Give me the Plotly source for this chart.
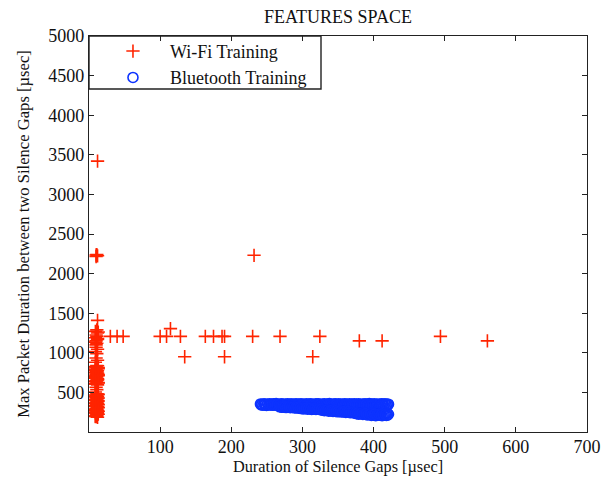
import plotly.graph_objects as go

# ---------------- data ----------------
wifi_x = [12,
          10, 11, 12, 10,
          12,
          11, 9, 12, 13,
          10, 11,
          9, 12, 10, 11, 12, 9, 10,
          10, 12, 9, 11,
          10, 12, 9,
          11, 9, 12, 10, 11, 9, 12, 10, 11, 9, 12, 10, 11, 9, 12,
          10, 13, 9, 12, 10, 11, 13, 9, 10, 12, 11, 9, 13, 10,
          12, 10, 13, 9, 11, 12, 10, 13, 9, 11, 12, 10, 13, 9,
          10, 11, 9,
          11, 9, 12, 10, 11, 9, 12, 10, 11, 9, 12, 10, 11, 9, 12, 10, 11, 9, 12,
          13, 10, 11, 12, 9, 13, 10, 12, 11, 9, 13, 10, 12, 11, 9, 13, 10, 11,
          12, 11, 9, 13, 10, 12, 11, 9, 13, 10, 12, 11, 9, 13, 10, 12, 11, 9,
          30, 39.5, 48, 100, 109, 114.5, 128.5, 163.5, 175, 187, 190.5,
          230, 268.5, 324.5, 380, 412, 494, 560,
          232, 134.5, 190.5, 314.5]
wifi_y = [3420,
          2215, 2240, 2225, 2235,
          1410,
          1290, 1270, 1250, 1262,
          1225, 1207,
          1190, 1170, 1150, 1120, 1180, 1135, 1100,
          1070, 1045, 1015, 990,
          935, 905, 880,
          840, 822, 805, 785, 768, 750, 732, 715, 698, 680, 662, 645, 628, 610, 595,
          831, 814, 796, 777, 759, 741, 724, 706, 689, 671, 653, 636, 619, 602,
          836, 818, 800, 781, 763, 745, 728, 710, 693, 675, 657, 640, 623, 606,
          565, 535, 505,
          483, 467, 450, 433, 417, 400, 383, 367, 350, 333, 317, 300, 283, 267, 250, 233, 217, 200, 186,
          475, 458, 441, 425, 408, 391, 375, 358, 342, 325, 308, 292, 275, 258, 242, 225, 208, 193,
          479, 462, 446, 429, 412, 396, 379, 362, 346, 329, 312, 296, 279, 262, 246, 229, 212, 196,
          1207, 1207, 1207, 1207, 1207, 1305, 1207, 1207, 1207, 1207, 1207,
          1207, 1207, 1207, 1150, 1150, 1207, 1150,
          2231, 950, 950, 950]

bt_x = [241, 243, 246, 248, 251, 254, 256, 259, 261, 263,
        266, 269, 271, 273, 276, 279, 281, 284, 286, 288,
        291, 294, 296, 298, 301, 304, 306, 309, 311, 313,
        316, 319, 321, 323, 326, 329, 331, 334, 336, 338,
        341, 344, 346, 348, 351, 354, 356, 359, 361, 363,
        366, 369, 371, 373, 376, 379, 381, 384, 386, 388,
        391, 394, 396, 398, 401, 404, 406, 409, 411, 413,
        416, 419, 421,
        242, 244.5, 247, 249.5, 252.5, 255, 257.5, 260, 262, 264.5,
        267.5, 270, 272, 274.5, 277.5, 280, 282.5, 285, 287, 289.5,
        292.5, 295, 297, 299.5, 302.5, 305, 307.5, 310, 312, 314.5,
        317.5, 320, 322, 324.5, 327.5, 330, 332.5, 335, 337, 339.5,
        342.5, 345, 347, 349.5, 352.5, 355, 357.5, 360, 362, 364.5,
        367.5, 370, 372, 374.5, 377.5, 380, 382.5, 385, 387, 389.5,
        392.5, 395, 397, 399.5, 402.5, 405, 407.5, 410, 412, 414.5,
        417.5, 420,
        268, 271, 274, 277, 280, 283, 286, 289, 292, 295,
        298, 301, 304, 307, 310, 313, 316, 319, 322, 325,
        328, 331, 334, 337, 340, 343, 346, 349, 352, 355,
        358, 361, 364, 367, 370, 373, 376, 379, 382, 385,
        388, 391, 394, 397, 400, 403, 406, 409, 412, 415,
        418, 421, 419, 410, 398, 386,
        269.5, 272.5, 275.5, 278.5, 281.5, 284.5, 287.5, 290.5, 293.5, 296.5,
        299.5, 302.5, 305.5, 308.5, 311.5, 314.5, 317.5, 320.5, 323.5, 326.5,
        329.5, 332.5, 335.5, 338.5, 341.5, 344.5, 347.5, 350.5, 353.5, 356.5,
        359.5, 362.5, 365.5, 368.5, 371.5, 374.5, 377.5, 380.5, 383.5, 386.5,
        389.5, 392.5, 395.5, 398.5, 401.5, 404.5, 407.5, 410.5, 413.5, 416.5,
        419.5]
bt_y = [354, 351, 356, 349, 353, 357, 350, 355, 352, 358,
        349, 354, 356, 351, 353, 357, 350, 355, 348, 354,
        356, 352, 350, 357, 353, 349, 355, 351, 356, 354,
        350, 357, 352, 355, 349, 353, 356, 351, 354, 358,
        350, 352, 355, 349, 356, 353, 351, 357, 354, 350,
        355, 352, 349, 356, 353, 357, 351, 354, 350, 355,
        352, 358, 349, 353, 356, 351, 354, 350, 357, 352,
        355, 353, 351,
        341, 338, 343, 336, 340, 344, 337, 342, 339, 345,
        336, 341, 343, 338, 340, 344, 337, 342, 335, 341,
        343, 339, 337, 344, 340, 336, 342, 338, 343, 341,
        337, 344, 339, 342, 336, 340, 343, 338, 341, 345,
        337, 339, 342, 336, 343, 340, 338, 344, 341, 337,
        342, 339, 336, 343, 340, 344, 338, 341, 337, 342,
        339, 345, 336, 340, 343, 338, 341, 337, 344, 339,
        342, 340,
        318, 312, 316, 309, 313, 306, 310, 303, 307, 300,
        296, 291, 297, 288, 294, 286, 292, 284, 290, 281,
        276, 268, 274, 262, 270, 259, 266, 255, 263, 252,
        260, 248, 256, 243, 251, 238, 232, 226, 236, 222,
        230, 215, 226, 210, 222, 207, 219, 212, 205, 216,
        209, 224, 240, 230, 238, 244,
        322, 318, 320, 314, 317, 312, 315, 308, 311, 305,
        300, 297, 301, 294, 298, 290, 296, 288, 293, 286,
        280, 274, 279, 268, 275, 264, 271, 260, 268, 257,
        262, 253, 258, 248, 255, 243, 238, 232, 240, 228,
        234, 221, 230, 216, 226, 213, 224, 217, 211, 220,
        214]

x_ticks = [100, 200, 300, 400, 500, 600, 700]
y_ticks = [500, 1000, 1500, 2000, 2500, 3000, 3500, 4000, 4500, 5000]

FONT = "Liberation Serif"
RED = "#ff2400"
BLUE = "#0d33ff"
AX = "#222222"
TXT = "#111111"

fig = go.Figure()
fig.add_trace(go.Scatter(
    x=wifi_x, y=wifi_y, mode="markers", name="Wi-Fi Training",
    cliponaxis=False,
    marker=dict(symbol="cross-thin", size=9.5, color=RED,
                line=dict(color=RED, width=1.6)),
))
fig.add_trace(go.Scatter(
    x=bt_x, y=bt_y, mode="markers", name="Bluetooth Training",
    cliponaxis=False,
    marker=dict(symbol="circle-open", size=10, color=BLUE,
                line=dict(color=BLUE, width=1.6)),
))

axis_common = dict(
    showline=True, linecolor=AX, linewidth=1.4, mirror="ticks",
    ticks="inside", ticklen=5, tickwidth=1.2, tickcolor=AX,
    showgrid=False, zeroline=False, automargin=False,
    tickfont=dict(family=FONT, size=18, color=TXT),
)

fig.update_xaxes(range=[0, 700], tickvals=x_ticks, ticklabelstandoff=-2, **axis_common,
                 title=dict(text="Duration of Silence Gaps [µsec]",
                            font=dict(family=FONT, size=16.3, color=TXT),
                            standoff=0))
fig.update_yaxes(range=[0, 5000], tickvals=y_ticks, **axis_common,
                 title=dict(text="Max Packet Duration between two Silence Gaps [µsec]",
                            font=dict(family=FONT, size=16.6, color=TXT),
                            standoff=14))

fig.update_layout(
    width=608, height=479, autosize=False,
    margin=dict(l=89, r=21, t=36, b=47, autoexpand=False),
    paper_bgcolor="white", plot_bgcolor="white",
    title=dict(text="FEATURES SPACE", x=0.5, xref="paper", xanchor="center",
               y=1 - 17 / 479, yref="container", yanchor="middle",
               font=dict(family=FONT, size=18, color=TXT), automargin=False),
    legend=dict(x=0.014, y=1.008, xanchor="left", yanchor="top",
                bgcolor="rgba(0,0,0,0)", borderwidth=0,
                font=dict(family=FONT, size=18, color=TXT),
                itemwidth=64, tracegroupgap=0, traceorder="normal"),
    shapes=[dict(type="rect", xref="x domain", yref="y domain",
                 x0=0, x1=(321 - 89) / 498, y0=1, y1=1 - (89 - 36) / 396,
                 line=dict(color=AX, width=1.4), fillcolor="rgba(0,0,0,0)",
                 layer="above")],
)

fig.write_html("out.html")
